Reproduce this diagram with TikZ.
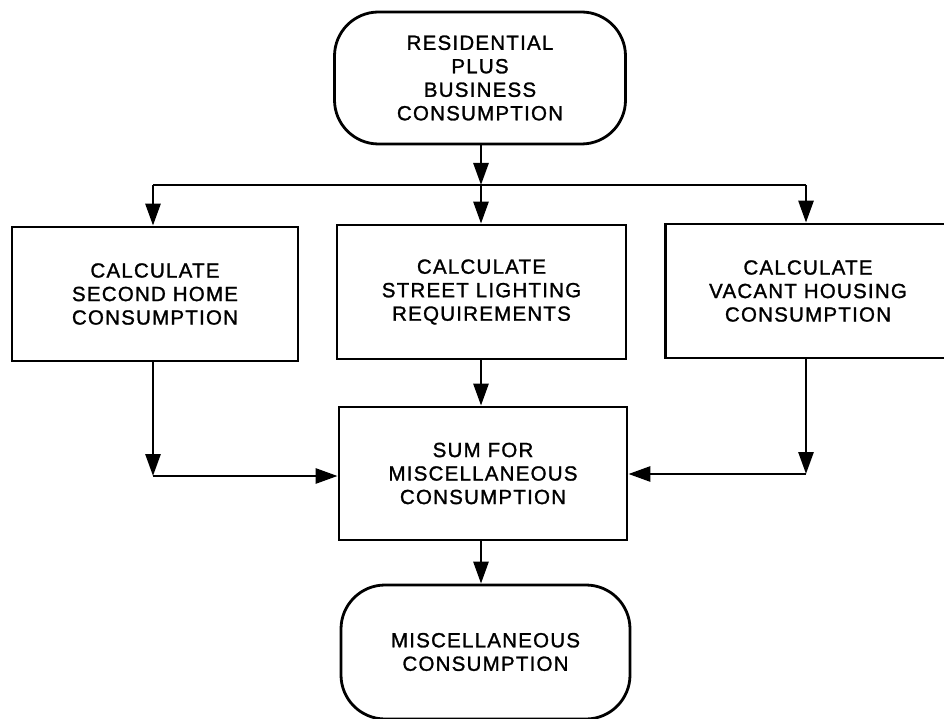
\documentclass[tikz,border=0pt]{standalone}
\usepackage{fontspec}
\setmainfont{Liberation Sans}[LetterSpace=6, FakeBold=1.3]
\usetikzlibrary{arrows.meta}
\begin{document}
\begin{tikzpicture}[x=1pt,y=-1pt,
  every node/.style={font=\fontsize{20.5}{23.5}\selectfont, align=center, inner sep=0pt},
  boxstyle/.style={draw, line width=2.8pt, rectangle, minimum height=134pt},
  termstyle/.style={draw, line width=2.8pt, rectangle, rounded corners=44pt, minimum width=291pt, minimum height=132pt},
  arr/.style={line width=2.8pt, -{Triangle[length=22pt,width=15pt]}},
  ln/.style={line width=2.8pt}]
\useasboundingbox[fill=white] (0,0) rectangle (944,719);
\node[termstyle] (top) at (480,78) {RESIDENTIAL\\PLUS\\BUSINESS\\CONSUMPTION};
\node[boxstyle, minimum width=286pt] (left) at (155,294) {CALCULATE\\SECOND HOME\\CONSUMPTION};
\node[boxstyle, minimum width=289pt] (mid) at (481.5,292) {CALCULATE\\STREET LIGHTING\\REQUIREMENTS};
\node[boxstyle, minimum width=285pt] (right) at (808,291) {CALCULATE\\VACANT HOUSING\\CONSUMPTION};
\node[boxstyle, minimum width=288pt, minimum height=133pt] (sum) at (483,473.5) {SUM FOR\\MISCELLANEOUS\\CONSUMPTION};
\node[termstyle, minimum width=289pt, minimum height=134pt] (bot) at (485.5,652) {MISCELLANEOUS\\CONSUMPTION};
\coordinate (bm) at (481,185);
\coordinate (bl) at (153,185);
\coordinate (br) at (806,185);
\coordinate (cl) at (153,476);
\coordinate (cr) at (806,474);
\draw[arr] (top.south -| bm) -- (bm);
\draw[ln] (bl) -- (br);
\draw[arr] (bm) -- (mid.north -| bm);
\draw[arr] (bl) -- (left.north -| bl);
\draw[arr] (br) -- (right.north -| br);
\draw[arr] (left.south -| cl) -- (cl);
\draw[arr] (cl) -- (sum.west |- cl);
\draw[arr] (right.south -| cr) -- (cr);
\draw[arr] (cr) -- (sum.east |- cr);
\draw[arr] (mid.south -| bm) -- (sum.north -| bm);
\draw[arr] (sum.south -| bm) -- (bot.north -| bm);
\end{tikzpicture}
\end{document}
